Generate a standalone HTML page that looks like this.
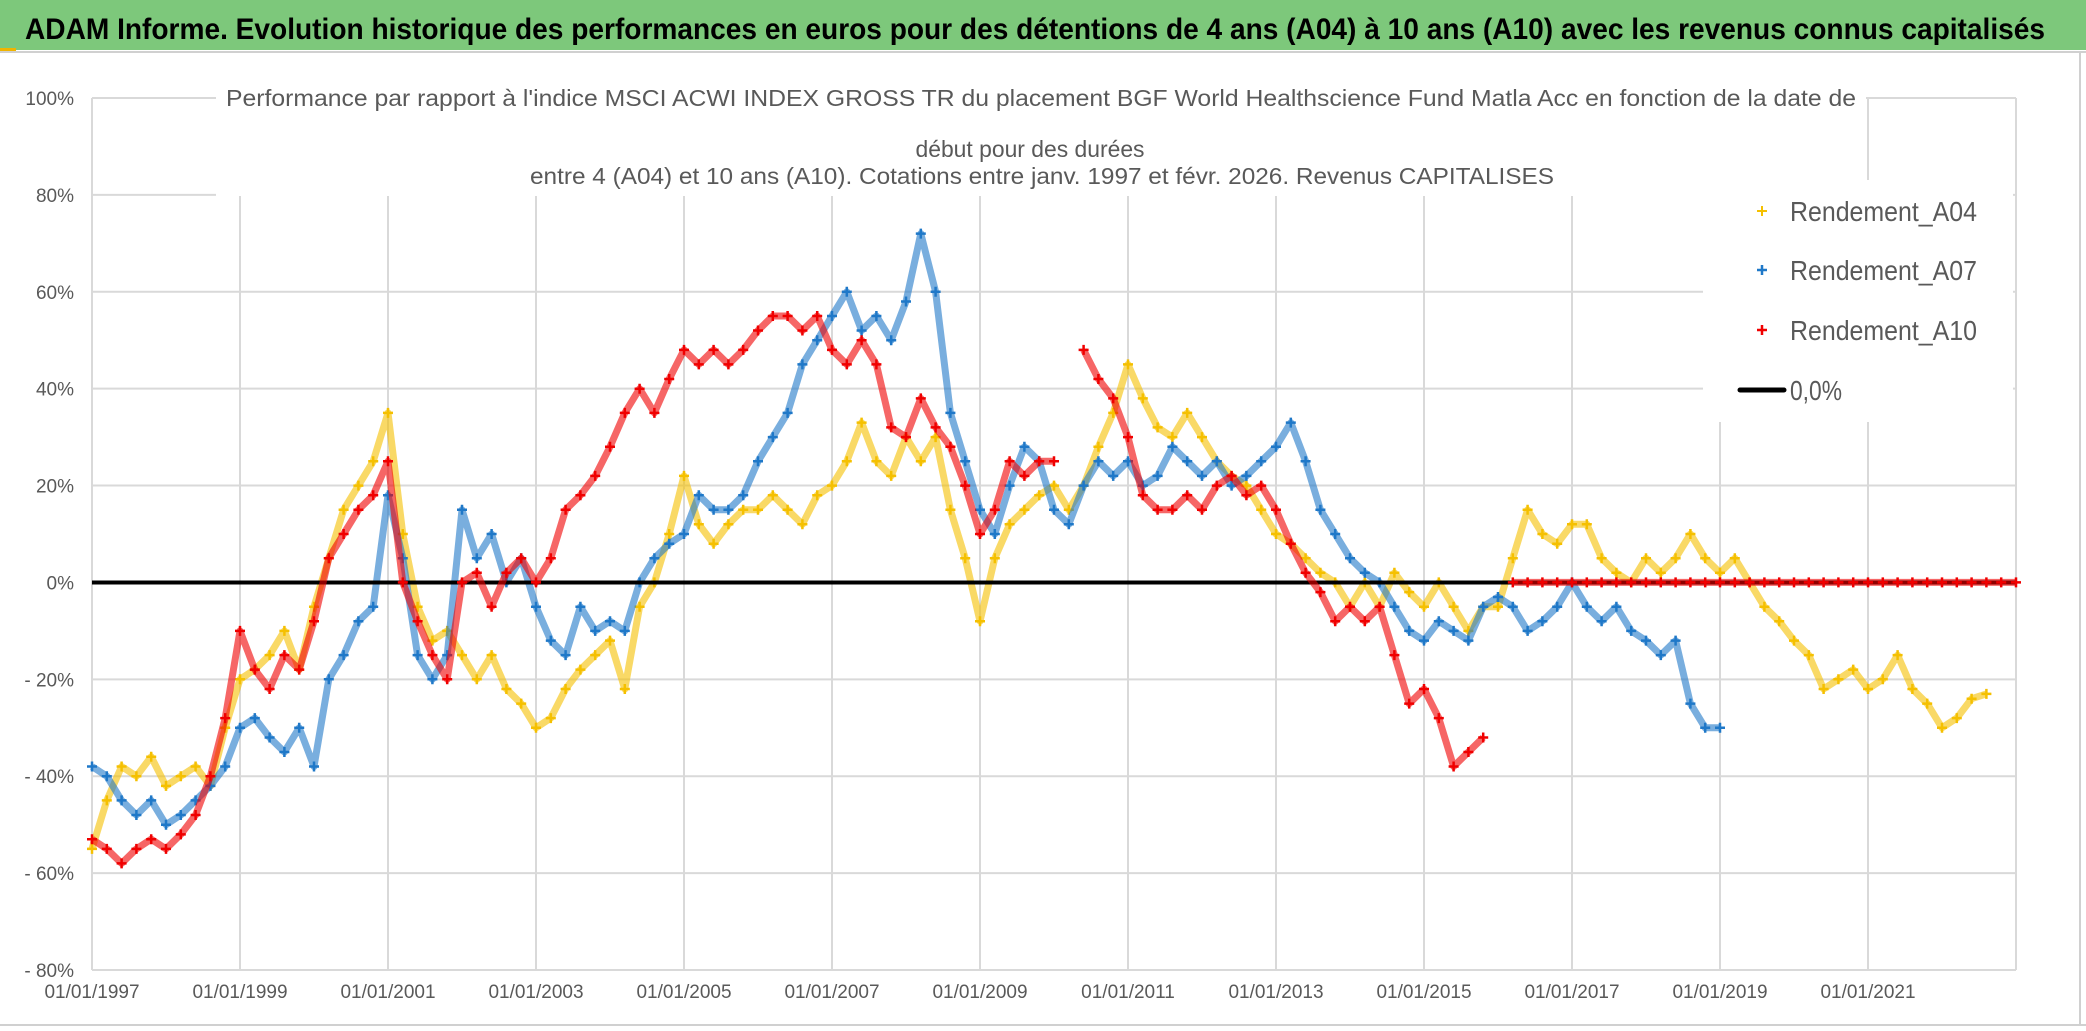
<!DOCTYPE html>
<html><head><meta charset="utf-8"><style>
html,body{margin:0;padding:0;background:#fff;}
svg{display:block;font-family:"Liberation Sans Narrow","Liberation Sans",sans-serif;}
</style></head><body>
<svg id="chart" width="2086" height="1031" viewBox="0 0 2086 1031" xmlns="http://www.w3.org/2000/svg">
<rect x="0" y="0" width="2086" height="1031" fill="#fff"/>
<rect x="0" y="0" width="2086" height="50" fill="#7dc87b"/>
<rect x="0" y="48" width="16" height="4" fill="#f0b400"/>
<line x1="0" y1="52" x2="2086" y2="52" stroke="#d0d0d0" stroke-width="2"/>
<text x="25" y="39" font-size="30" font-weight="bold" fill="#000" textLength="2020" lengthAdjust="spacingAndGlyphs">ADAM Informe. Evolution historique des performances en euros pour des détentions de 4 ans (A04) à 10 ans (A10) avec les revenus connus capitalisés</text>
<line x1="2080" y1="52" x2="2080" y2="1025" stroke="#d0d0d0" stroke-width="2"/>
<line x1="0" y1="1025" x2="2086" y2="1025" stroke="#d0d0d0" stroke-width="2"/>
<g id="grid"></g>
<g id="series"></g>
<g id="overlays">
<rect x="216" y="78" width="1650" height="118" fill="#fff"/>
<text x="226" y="106" font-size="23" fill="#595959" textLength="1630" lengthAdjust="spacingAndGlyphs">Performance par rapport à l'indice MSCI ACWI INDEX GROSS TR  du placement BGF World Healthscience Fund Matla Acc en fonction de la date de</text>
<text x="1030" y="157" font-size="23" fill="#595959" text-anchor="middle" textLength="229" lengthAdjust="spacingAndGlyphs">début pour des durées</text>
<text x="530" y="184" font-size="23" fill="#595959" textLength="1024" lengthAdjust="spacingAndGlyphs">entre 4 (A04) et 10 ans (A10). Cotations entre janv. 1997 et févr. 2026. Revenus CAPITALISES</text>
<rect x="1703" y="180" width="310" height="242" fill="#fff"/>
<g>
<path d="M1757 211h10M1762 206v10" stroke="#f5c000" stroke-width="2"/>
<text x="1790" y="221" font-size="28" fill="#595959" textLength="187" lengthAdjust="spacingAndGlyphs">Rendement_A04</text></g>
<g>
<path d="M1757 270h10M1762 265v10" stroke="#1f78c8" stroke-width="2.5"/>
<text x="1790" y="280" font-size="28" fill="#595959" textLength="187" lengthAdjust="spacingAndGlyphs">Rendement_A07</text></g>
<g>
<path d="M1757 330h10M1762 325v10" stroke="#f00000" stroke-width="2.5"/>
<text x="1790" y="340" font-size="28" fill="#595959" textLength="187" lengthAdjust="spacingAndGlyphs">Rendement_A10</text></g>
<g>
<line x1="1740" y1="390" x2="1784" y2="390" stroke="#000" stroke-width="5" stroke-linecap="round"/>
<text x="1790" y="400" font-size="28" fill="#595959" textLength="52" lengthAdjust="spacingAndGlyphs">0,0%</text></g>
</g>
</svg>
<script>
const yTicks = [100, 80, 60, 40, 20, 0, -20, -40, -60, -80];
const yTickLabels = ["100%","80%","60%","40%","20%","0%","- 20%","- 40%","- 60%","- 80%"];
const xTickYears = [1997,1999,2001,2003,2005,2007,2009,2011,2013,2015,2017,2019,2021,2023];
const xTickLabels = ["01/01/1997","01/01/1999","01/01/2001","01/01/2003","01/01/2005","01/01/2007","01/01/2009","01/01/2011","01/01/2013","01/01/2015","01/01/2017","01/01/2019","01/01/2021",""];
const a04Start = 1997.0, a04Step = 0.2;
const a04Values = [-55,-45,-38,-40,-36,-42,-40,-38,-42,-30,-20,-18,-15,-10,-18,-5,5,15,20,25,35,10,-5,-12,-10,-15,-20,-15,-22,-25,-30,-28,-22,-18,-15,-12,-22,-5,0,10,22,12,8,12,15,15,18,15,12,18,20,25,33,25,22,30,25,30,15,5,-8,5,12,15,18,20,15,20,28,35,45,38,32,30,35,30,25,22,20,15,10,8,5,2,0,-5,0,-5,2,-2,-5,0,-5,-10,-5,-5,5,15,10,8,12,12,5,2,0,5,2,5,10,5,2,5,0,-5,-8,-12,-15,-22,-20,-18,-22,-20,-15,-22,-25,-30,-28,-24,-23];
const a07Start = 1997.0, a07Step = 0.2;
const a07Values = [-38,-40,-45,-48,-45,-50,-48,-45,-42,-38,-30,-28,-32,-35,-30,-38,-20,-15,-8,-5,18,5,-15,-20,-15,15,5,10,0,5,-5,-12,-15,-5,-10,-8,-10,0,5,8,10,18,15,15,18,25,30,35,45,50,55,60,52,55,50,58,72,60,35,25,15,10,20,28,25,15,12,20,25,22,25,20,22,28,25,22,25,20,22,25,28,33,25,15,10,5,2,0,-5,-10,-12,-8,-10,-12,-5,-3,-5,-10,-8,-5,0,-5,-8,-5,-10,-12,-15,-12,-25,-30,-30];
const a10aStart = 1997.0, a10aStep = 0.2;
const a10aValues = [-53,-55,-58,-55,-53,-55,-52,-48,-40,-28,-10,-18,-22,-15,-18,-8,5,10,15,18,25,0,-8,-15,-20,0,2,-5,2,5,0,5,15,18,22,28,35,40,35,42,48,45,48,45,48,52,55,55,52,55,48,45,50,45,32,30,38,32,28,20,10,15,25,22,25,25];
const a10bStart = 2010.4, a10bStep = 0.2;
const a10bValues = [48,42,38,30,18,15,15,18,15,20,22,18,20,15,8,2,-2,-8,-5,-8,-5,-15,-25,-22,-28,-38,-35,-32];
const a10cStart = 2016.2, a10cStep = 0.2;
const a10cValues = [0,0,0,0,0,0,0,0,0,0,0,0,0,0,0,0,0,0,0,0,0,0,0,0,0,0,0,0,0,0,0,0,0,0,0];

const NS = "http://www.w3.org/2000/svg";
const X0 = 92, X1 = 2016, Y100 = 98, Ym80 = 970;
function xs(year){ return X0 + (year - 1997) / (2023 - 1997) * (X1 - X0); }
function ys(v){ return Y100 + (100 - v) / 180 * (Ym80 - Y100); }
function mk(tag, parent){ const e = document.createElementNS(NS, tag); parent.appendChild(e); return e; }

const grid = document.getElementById('grid');
yTicks.forEach((t, i) => {
  const l = mk('line', grid);
  
  
  l.setAttribute('x1', X0); l.setAttribute('x2', X1);
  l.setAttribute('y1', ys(t)); l.setAttribute('y2', ys(t));
  l.setAttribute('stroke', '#d9d9d9'); l.setAttribute('stroke-width', '2');
  const tx = mk('text', grid);
  
  
  tx.setAttribute('x', 74); tx.setAttribute('y', ys(t) + 7);
  tx.setAttribute('text-anchor', 'end'); tx.setAttribute('font-size', '19'); tx.setAttribute('fill', '#595959');
  tx.textContent = yTickLabels[i];
});
xTickYears.forEach((yr, i) => {
  const l = mk('line', grid);
  
  
  l.setAttribute('x1', xs(yr)); l.setAttribute('x2', xs(yr));
  l.setAttribute('y1', ys(100)); l.setAttribute('y2', ys(-80));
  l.setAttribute('stroke', '#d9d9d9'); l.setAttribute('stroke-width', '2');
  const tx = mk('text', grid);
  
  
  tx.setAttribute('x', xs(yr)); tx.setAttribute('y', 998);
  tx.setAttribute('text-anchor', 'middle'); tx.setAttribute('font-size', '19'); tx.setAttribute('fill', '#595959');
  tx.textContent = xTickLabels[i];
});

const seriesLayer = document.getElementById('series');
function drawSeries(name, start, step, vals, color){
  const g = mk('g', seriesLayer);
  
  
  const pts = vals.map((v, i) => [xs(start + i * step), ys(v)]);
  const pl = mk('polyline', g);
  
  
  pl.setAttribute('points', pts.map(p => p[0].toFixed(1) + ',' + p[1].toFixed(1)).join(' '));
  pl.setAttribute('fill', 'none'); pl.setAttribute('stroke', color);
  pl.setAttribute('stroke-width', '7'); pl.setAttribute('stroke-opacity', '0.6');
  pl.setAttribute('stroke-linejoin', 'round');
  let d = '';
  pts.forEach(p => { d += 'M' + (p[0] - 5).toFixed(1) + ' ' + p[1].toFixed(1) + 'h10M' + p[0].toFixed(1) + ' ' + (p[1] - 5).toFixed(1) + 'v10'; });
  const m = mk('path', g);
  
  
  m.setAttribute('d', d); m.setAttribute('stroke', color); m.setAttribute('stroke-width', '2.5');
}
drawSeries('series-a04', a04Start, a04Step, a04Values, '#f5c000');
drawSeries('series-a07', a07Start, a07Step, a07Values, '#1f78c8');
const zl = mk('line', seriesLayer);


zl.setAttribute('x1', X0); zl.setAttribute('x2', X1);
zl.setAttribute('y1', ys(0)); zl.setAttribute('y2', ys(0));
zl.setAttribute('stroke', '#000'); zl.setAttribute('stroke-width', '4');
drawSeries('series-a10-part1', a10aStart, a10aStep, a10aValues, '#f00000');
drawSeries('series-a10-part2', a10bStart, a10bStep, a10bValues, '#f00000');
drawSeries('series-a10-part3', a10cStart, a10cStep, a10cValues, '#f00000');
</script>
</body></html>
